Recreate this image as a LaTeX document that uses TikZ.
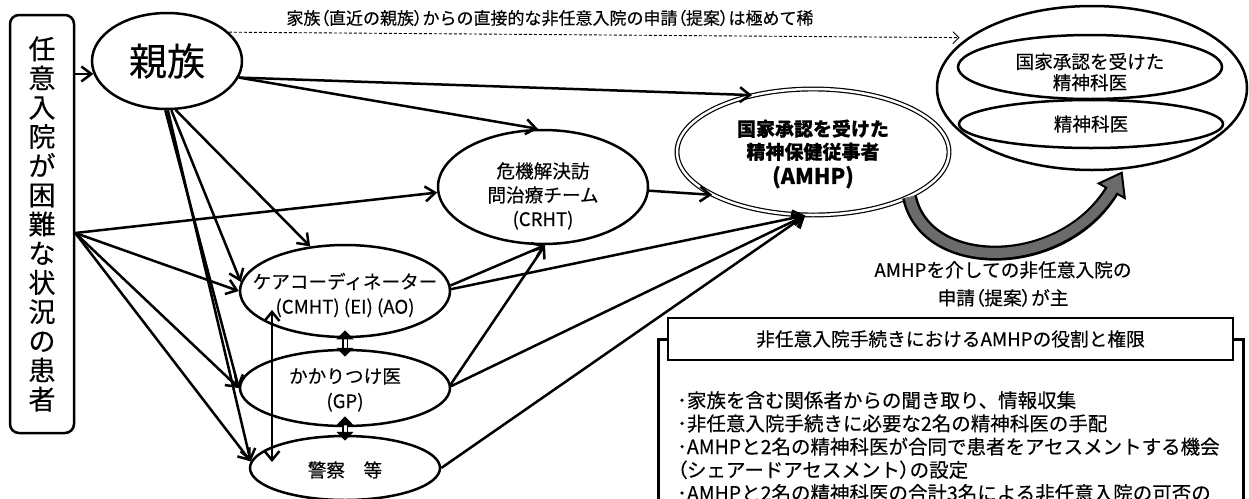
\documentclass[tikz,border=0pt]{standalone}
\usepackage{fontspec}
\setmainfont{Noto Sans CJK JP}[FakeBold=0.3]
\newfontfamily\pfont{Noto Sans CJK JP}[RawFeature=+palt, FakeBold=0.3]
\newcommand\jlp{{\pfont （}}
\newcommand\jrp{{\pfont ）}}
\usetikzlibrary{shapes.geometric,arrows.meta}
\begin{document}
\begin{tikzpicture}[x=1pt,y=-1pt,
  every node/.style={font=\fontsize{18.6}{22}\selectfont},
  ell/.style={draw, ellipse, line width=2.5pt, inner sep=0pt},
  arr/.style={line width=2.5pt, -{Straight Barb[length=10pt,width=15pt]}},
  darr/.style={line width=2.5pt, {Straight Barb[length=9pt,width=15pt]}-{Straight Barb[length=9pt,width=15pt]}},
  dbl/.style={line width=1.6pt, double, double distance=3pt, {Triangle[length=9pt,width=17pt]}-{Triangle[length=9pt,width=17pt]}},
  dash arr/.style={line width=0.9pt, dash pattern=on 3pt off 2pt, -{Straight Barb[length=6pt,width=12pt]}},
  lbl/.style={align=center}]
\useasboundingbox (0,0) rectangle (1249,498);

% nodes
\node[draw, rounded corners=9pt, line width=2.5pt, minimum width=64pt, minimum height=418pt, inner sep=0pt, align=center, font=\fontsize{27}{29.2}\selectfont] (p) at (42,224)
  {任\\意\\入\\院\\が\\困\\難\\な\\状\\況\\の\\患\\者};
\node[ell, minimum width=150pt, minimum height=96pt, font=\fontsize{38}{40}\selectfont] (s) at (167,61) {親族};
\node[draw, ellipse, double, double distance=2.5pt, line width=1.2pt, minimum width=272pt, minimum height=126pt, inner sep=0pt,
  label={[lbl, yshift=-2pt, font=\bfseries\fontsize{19}{23}\selectfont]center:{国家承認を受けた\\精神保健従事者\\[2pt]{\fontsize{21.5}{26}\selectfont (AMHP)}}}] (a) at (813,152) {};
\node[ell, minimum width=210pt, minimum height=114pt,
  label={[lbl, yshift=-9pt, font=\fontsize{18.6}{24}\selectfont]center:{危機解決訪\\問治療チーム\\(CRHT)}}] (c) at (543,187) {};
\node[ell, minimum width=210pt, minimum height=92pt,
  label={[lbl, yshift=-4pt, font=\fontsize{18.6}{25}\selectfont]center:{ケアコーディネーター\\(CMHT) (EI) (AO)}}] (cc) at (345,291) {};
\node[ell, minimum width=210pt, minimum height=76pt,
  label={[lbl, yshift=-2pt, font=\fontsize{18.6}{25}\selectfont]center:{かかりつけ医\\(GP)}}] (g) at (345,388) {};
\node[ell, minimum width=190pt, minimum height=64pt,
  label={[lbl, yshift=-2pt]center:{警察　等}}] (pol) at (345,468) {};
\node[ell, minimum width=310pt, minimum height=164pt] (o) at (1092,88) {};
\node[ell, minimum width=264pt, minimum height=64pt,
  label={[lbl, yshift=-5pt, font=\fontsize{18.6}{21}\selectfont]center:{国家承認を受けた\\精神科医}}] (o1) at (1090,67) {};
\node[ell, minimum width=264pt, minimum height=48pt,
  label={[lbl]center:{精神科医}}] (o2) at (1091,124) {};

\node[font=\fontsize{17}{20}\selectfont] (dt) at (550,18) {家族\jlp 直近の親族\jrp からの直接的な非任意入院の申請\jlp 提案\jrp は極めて稀};
\node[align=center, font=\fontsize{18.7}{28}\selectfont] (mt) at (1003,284) {AMHPを介しての非任意入院の\\申請\jlp 提案\jrp が主};

\node[draw, line width=2.5pt, minimum width=585pt, minimum height=230pt, anchor=north west, inner sep=0pt] (bb) at (657,338) {};
\node[draw, fill=white, line width=2.5pt, minimum width=565pt, minimum height=42pt, inner sep=0pt, font=\fontsize{18.7}{22}\selectfont] (tb) at (950.5,339) {非任意入院手続きにおけるAMHPの役割と権限};
\node[anchor=north west, align=left, inner sep=0pt, font=\fontsize{19.5}{23.2}\selectfont] (bt) at (677,391)
  {･家族を含む関係者からの聞き取り、情報収集\\･非任意入院手続きに必要な2名の精神科医の手配\\･AMHPと2名の精神科医が合同で患者をアセスメントする機会\\\jlp シェアードアセスメント\jrp の設定\\･AMHPと2名の精神科医の合計3名による非任意入院の可否の};

% connectors
\draw[arr] (p.east |- s.190) -- (s.190);
\draw[dash arr, shorten >=8pt] (s.25) -- (o.158);
\draw[arr] (s.-13) -- (a.137);
\draw[arr] (s.-13) -- (c.95);
\draw[arr] (s.-80) -- (cc.128);
\draw[arr] (s.-85) -- (cc.175);
\draw[arr] (s.-92) -- (g.180);
\draw[arr] (s.-89) -- (pol.176);
\draw[arr] ([yshift=-9pt]p.east) -- (c.183);
\draw[arr] ([yshift=-9pt]p.east) -- (cc.180);
\draw[arr] ([yshift=-9pt]p.east) -- (g.180);
\draw[arr] ([yshift=-9pt]p.east) -- (pol.176);
\draw[arr] (cc.3) -- (c.-88);
\draw[arr] (cc.1) -- (a.263);
\draw[arr] (g.2) -- (c.-88);
\draw[arr] (g.1) -- (a.263);
\draw[arr] (pol.0) -- (a.263);
\draw[arr] (c.-2) -- (a.203);
\draw[dbl] ([yshift=8pt]cc.south) -- ([yshift=-8pt]g.north);
\draw[dbl] ([yshift=11pt]g.south) -- ([yshift=-6pt]pol.north);
\draw[darr] ([xshift=-73pt,yshift=-19pt]cc.center) -- ([xshift=-73pt,yshift=6pt]pol.center);

% gray curved arrow
\coordinate (gT) at ([yshift=-3pt]o.-70);
\coordinate (gH) at ([xshift=-10pt,yshift=-18pt]gT);
\draw[line width=15pt, black] (a.-25) .. controls +(16,76) and +(-50,82) .. (gH);
\filldraw[fill=black!58, draw=black, line width=2pt, line join=miter]
  (gT) -- ([xshift=13pt,yshift=-7.3pt]gH) -- ([xshift=-13pt,yshift=7.3pt]gH) -- cycle;
\draw[line width=10pt, black!58, shorten >=-2pt] (a.-25) .. controls +(16,76) and +(-50,82) .. (gH);
\end{tikzpicture}
\end{document}
